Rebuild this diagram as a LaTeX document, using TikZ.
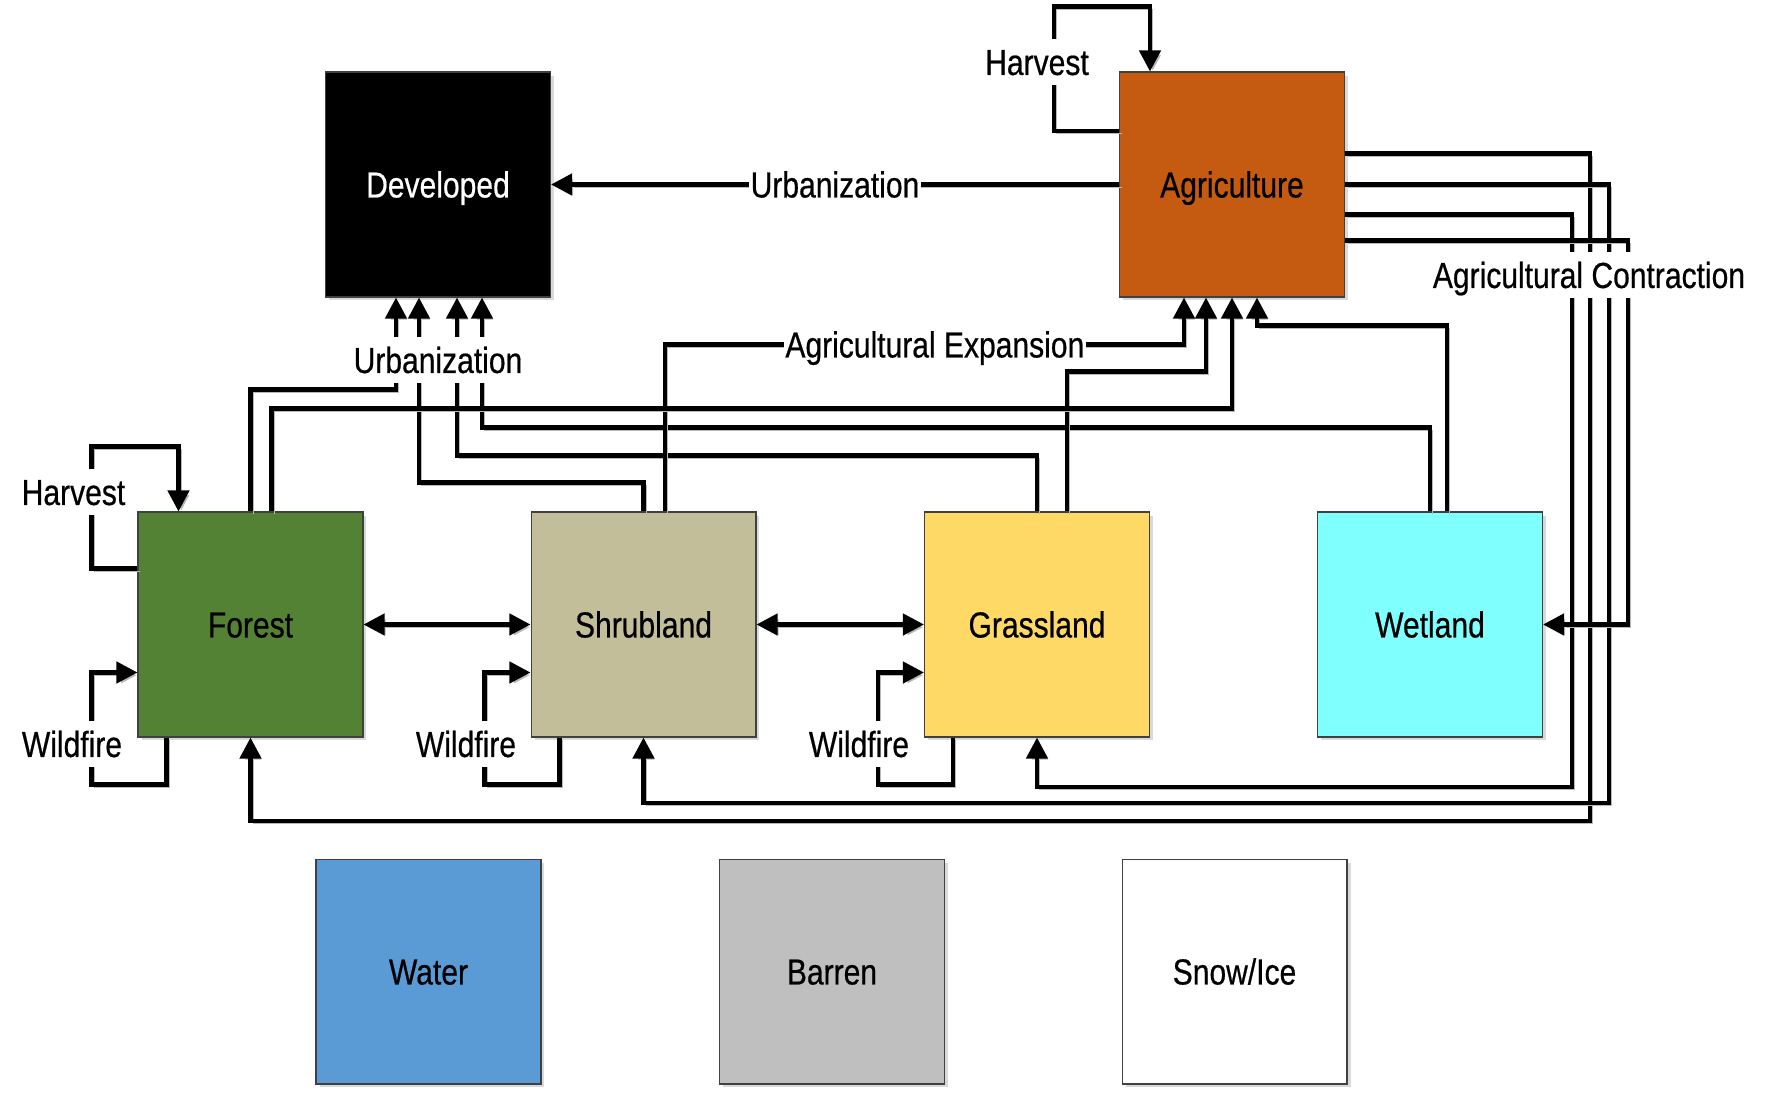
\documentclass[tikz,border=0pt]{standalone}
\usepackage{fontspec}
\setmainfont{Liberation Sans}[FakeStretch=0.83, FakeBold=0.5]
\usetikzlibrary{calc,arrows.meta,shadows}

\definecolor{agricol}{RGB}{197,90,17}
\definecolor{forestcol}{RGB}{84,130,53}
\definecolor{shrubcol}{RGB}{194,190,154}
\definecolor{grasscol}{RGB}{255,217,102}
\definecolor{wetcol}{RGB}{128,255,255}
\definecolor{watercol}{RGB}{91,155,213}
\definecolor{barrencol}{RGB}{191,191,191}

\tikzset{
	cover/.style={draw=black!75, line width=0.6pt, minimum width=4.5cm, minimum height=4.5cm, inner sep=0pt,
		text height=14.75pt, text depth=0pt,
		drop shadow={shadow xshift=2pt, shadow yshift=-2pt, opacity=0.3}},
	wire/.style={line width=2.5pt, preaction={draw=black!28, transform canvas={shift={(1.6pt,-1.6pt)}}}},
	flow/.style={wire, -{Triangle[length=12pt,width=12pt]}},
	both/.style={wire, {Triangle[length=12pt,width=12pt]}-{Triangle[length=12pt,width=12pt]}},
	lbl/.style={fill=white, inner xsep=1pt, inner ysep=2pt, text height=18.5pt, text depth=3.75pt}
}

\begin{document}
\begin{tikzpicture}[x=0.02cm, y=-0.02cm, font=\fontsize{20.6}{24}\selectfont]
		%%%%% START %%%%%
		\useasboundingbox (0,0) rectangle (1769,1098);
		
		\node[cover, fill=black, text=white] (dev) at (438,184.5) {Developed};
		\node[cover, fill=agricol] (agri) at (1232,184.5) {Agriculture};
		
		\node[cover, fill=forestcol] (forest) at (250.5,624.5) {Forest};
		\node[cover, fill=shrubcol] (shrub) at (643.5,624.5) {Shrubland};
		\node[cover, fill=grasscol] (grass) at (1037,624.5) {Grassland};
		\node[cover, fill=wetcol] (wet) at (1430,624.5) {Wetland};
		
		\node[cover, fill=watercol] (water) at (428.5,971.5) {Water};
		\node[cover, fill=barrencol] (barren) at (832,971.5) {Barren};
		\node[cover, fill=white] (snow) at (1234.5,971.5) {Snow/Ice};
		
		% urbanization
		\draw[flow] (agri.west) -- node[lbl] (urbtop) {Urbanization} (dev.east);
		\draw[flow] (forest.north) -- ++(0,-122) -| ($(dev.south)+(-42,0)$);
		\draw[flow] (shrub.north) -- ++(0,-29) -| ($(dev.south)+(-19,0)$);
		\draw[flow] (grass.north) -- ++(0,-56) -| ($(dev.south)+(19,0)$);
		\draw[flow] (wet.north) -- ++(0,-84) -| ($(dev.south)+(44,0)$);
		
		% agricultural expansion
		\draw[flow] ($(shrub.north)+(21.5,0)$) -- ++(0,-167) -| node[lbl, pos=0.26] (expand) {Agricultural Expansion} ($(agri.south)+(-48,0)$);
		\draw[flow] ($(grass.north)+(30,0)$) -- ++(0,-140) -| ($(agri.south)+(-26,0)$);
		\draw[flow] ($(forest.north)+(21,0)$) -- ++(0,-103) -| (agri.south);
		\draw[flow] ($(wet.north)+(17,0)$) -- ++(0,-186) -| ($(agri.south)+(25,0)$);
		
		% agricultural contraction
		\draw[flow] ($(agri.east)+(0,-31)$) -| ($(agri.east)+(245,636.5)$) -| (forest.south);
		\draw[flow] (agri.east) -| ($(agri.east)+(264,618.5)$) -| (shrub.south);
		\draw[flow] ($(agri.east)+(0,30)$) -| ($(agri.east)+(227,602.5)$) -| (grass.south);
		\draw[flow] ($(agri.east)+(0,56)$) -| ($(wet.east)+(85,0)$) -- (wet.east);
		
		% neighbours
		\draw[both] (forest.east) -- (shrub.west);
		\draw[both] (shrub.east) -- (grass.west);
		
		% harvest
		\draw[flow] ($(agri.west)+(0,-53.5)$) -| ($(agri.north west)+(-65,-65)$) -| ($(agri.north)+(-82,0)$);
		\draw[flow] ($(forest.west)+(0,-56)$) -| ($(forest.north west)+(-46,-65)$) -| ($(forest.north)+(-72,0)$);
		
		% wildfire
		\draw[flow] ($(forest.south)+(-84,0)$) |- ($(forest.south west)+(-46,47)$) |- ($(forest.west)+(0,48)$);
		\draw[flow] ($(shrub.south)+(-84,0)$) |- ($(shrub.south west)+(-46,47)$) |- ($(shrub.west)+(0,48)$);
		\draw[flow] ($(grass.south)+(-84,0)$) |- ($(grass.south west)+(-46,47)$) |- ($(grass.west)+(0,48)$);
		
		% labels
		\node[lbl] (urbdev) at (438,360) {Urbanization};
		\node[lbl] (contract) at (1589,275) {Agricultural Contraction};
		\node[lbl] (hvagri) at (1037,62) {Harvest};
		\node[lbl] (hvforest) at (73.5,492) {Harvest};
		\node[lbl] (wfforest) at (72,744) {Wildfire};
		\node[lbl] (wfshrub) at (466,744) {Wildfire};
		\node[lbl] (wfgrass) at (859,744) {Wildfire};
		
		%%%%% END %%%%%
	\end{tikzpicture}
\end{document}
